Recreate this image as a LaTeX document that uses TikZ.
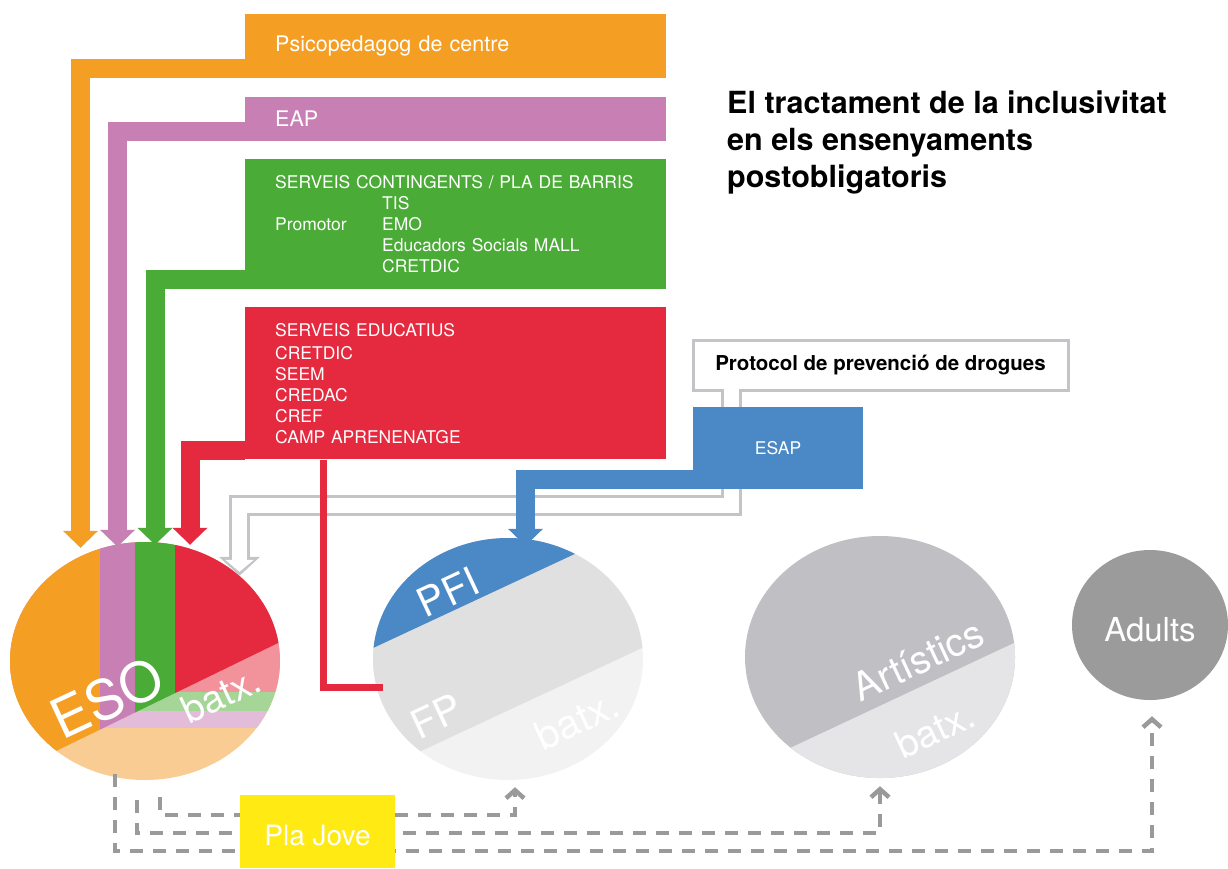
\documentclass[tikz,border=0pt]{standalone}
\usepackage{fontspec}
\setmainfont{TeX Gyre Heros}
\usetikzlibrary{positioning, shapes.geometric, arrows.meta}

\definecolor{colPsico}{HTML}{F49E23}
\definecolor{colEap}{HTML}{C87FB4}
\definecolor{colServeis}{HTML}{4AAB36}
\definecolor{colEducatius}{HTML}{E5293E}
\definecolor{colEsap}{HTML}{4A88C6}
\definecolor{colPipe}{HTML}{C4C4C8}
\definecolor{colJove}{HTML}{FFEA13}
\definecolor{colEsoPink}{HTML}{F2939C}
\definecolor{colEsoGreen}{HTML}{A5D597}
\definecolor{colEsoPurple}{HTML}{E2BCD8}
\definecolor{colEsoOrange}{HTML}{F8CC92}
\definecolor{colFpMid}{HTML}{E0E0E0}
\definecolor{colFpLow}{HTML}{F2F2F2}
\definecolor{colArtTop}{HTML}{C0BFC3}
\definecolor{colArtLow}{HTML}{E5E5E7}
\definecolor{colAdults}{HTML}{9B9B9C}
\definecolor{colDash}{HTML}{9A9A9A}

\begin{document}
\begin{tikzpicture}[x=1pt, y=-1pt,
    box/.style={rectangle, inner xsep=30pt, inner ysep=0pt, text width=361pt, minimum width=421pt, align=left, text=white},
    bigtxt/.style={font=\fontsize{21.5}{25}\selectfont},
    smalltxt/.style={font=\fontsize{17.5}{21}\selectfont},
    pie/.style={ellipse, inner sep=0pt, minimum width=270pt, minimum height=242pt},
    slice/.style={rotate=25, text=white, inner sep=0pt},
    feed/.style={draw=#1, line width=19pt, -{Triangle[width=34pt, length=17pt]}},
    pipe/.style={draw=colPipe, line width=21pt, -{Triangle[width=40pt, length=19pt]}},
    pipein/.style={draw=white, line width=15pt, -{Triangle[width=28pt, length=12pt]}},
    route/.style={draw=colDash, line width=4.5pt, dash pattern=on 13pt off 10pt, -{Straight Barb[length=8pt, width=18pt]}}]

    \useasboundingbox (0,0) rectangle (1228,868);

    % services that reach ESO
    \node (psico) [box, bigtxt, fill=colPsico, minimum height=64pt, anchor=north west] at (245,14) {Psicopedagog de centre};
    \node (eap) [box, bigtxt, fill=colEap, minimum height=44pt, below right=18pt and 0pt of psico.south west] {EAP};
    \node (serveis) [box, smalltxt, fill=colServeis, minimum height=130pt, below right=18pt and 0pt of eap.south west] {SERVEIS CONTINGENTS / PLA DE BARRIS\\
        \hspace*{107pt}TIS\\
        \makebox[107pt][l]{Promotor}EMO\\
        \hspace*{107pt}Educadors Socials MALL\\
        \hspace*{107pt}CRETDIC};
    \node (educatius) [box, smalltxt, fill=colEducatius, minimum height=152pt, below right=18pt and 0pt of serveis.south west] {SERVEIS EDUCATIUS\\[2pt]
        CRETDIC\\ SEEM\\ CREDAC\\ CREF\\ CAMP APRENENATGE};

    % drug prevention protocol
    \node (protocol) [rectangle, draw=colPipe, line width=3pt, fill=white, minimum width=375pt, minimum height=50pt, font=\fontsize{20.5}{24}\selectfont\bfseries] at (880.5,365) {Protocol de prevenció de drogues};

    % ESO
    \node (eso) [pie, fill=colEsoOrange, minimum height=238pt] at (145,661) {};
    \begin{scope}
        \clip (eso.center) ellipse [x radius=135pt, y radius=119pt];
        \fill[colEsoPink] (0,500) rectangle (300,692);
        \fill[colEsoGreen] (0,692) rectangle (300,711);
        \fill[colEsoPurple] (0,711) rectangle (300,728);
        \fill[colPsico] (0,500) -- (100,500) -- (100,729.6) -- (0,778.2) -- cycle;
        \fill[colEap] (100,500) -- (135,500) -- (135,712.5) -- (100,729.6) -- cycle;
        \fill[colServeis] (135,500) -- (175,500) -- (175,693.1) -- (135,712.5) -- cycle;
        \fill[colEducatius] (175,500) -- (300,500) -- (300,632.3) -- (175,693.1) -- cycle;
    \end{scope}
    \node (esoLbl) [slice, font=\fontsize{55}{55}\selectfont] at (107,698) {ESO};
    \node (esoBatx) [slice, font=\fontsize{38}{38}\selectfont] at (221,695) {batx.};

    % FP and PFI
    \node (fp) [pie, fill=colFpLow] at (508,659) {};
    \begin{scope}
        \clip (fp.center) ellipse [x radius=135pt, y radius=121pt];
        \fill[colFpMid] (360,500) -- (660,500) -- (660,639.6) -- (360,779.5) -- cycle;
        \fill[colEsap] (360,500) -- (660,500) -- (660,514.2) -- (360,654.1) -- cycle;
    \end{scope}
    \node (pfiLbl) [slice, font=\fontsize{40}{40}\selectfont] at (448,592) {PFI};
    \node (fpLbl) [slice, font=\fontsize{40}{40}\selectfont] at (436,716) {FP};
    \node (fpBatx) [slice, font=\fontsize{40}{40}\selectfont] at (577,720) {batx.};

    % Artistics
    \node (artistics) [pie, fill=colArtTop] at (880,657) {};
    \begin{scope}
        \clip (artistics.center) ellipse [x radius=135pt, y radius=121pt];
        \fill[colArtLow] (740,771.5) -- (1020,640.2) -- (1020,800) -- (740,800) -- cycle;
    \end{scope}
    \node (artLbl) [slice, font=\fontsize{39}{39}\selectfont] at (918,660) {Artístics};
    \node (artBatx) [slice, font=\fontsize{38}{38}\selectfont] at (935,730) {batx.};

    % Adults
    \node (adults) [ellipse, inner sep=0pt, fill=colAdults, minimum width=156pt, minimum height=150pt, text=white, text height=34pt, font=\fontsize{33}{33}\selectfont] at (1150,625) {Adults};

    % protocol down to ESO
    \draw[pipe] ([xshift=-149.5pt]protocol.south) -- ++(0,114) -| ([xshift=94.5pt,yshift=-34pt]eso.north);
    \draw[pipein] ([xshift=-149.5pt,yshift=4pt]protocol.south) -- ++(0,118) -| ([xshift=94.5pt,yshift=-30pt]eso.north);

    % educational services to FP
    \draw[colEducatius, line width=7pt] ([xshift=-132.5pt]educatius.south) |- ([xshift=10pt,yshift=-28pt]fp.west);

    % arrows into ESO
    \draw[feed=colPsico] ([yshift=-22.5pt]psico.west) -| ([xshift=-64.5pt,yshift=-6pt]eso.north);
    \draw[feed=colEap] ([yshift=-12.5pt]eap.west) -| ([xshift=-27.5pt,yshift=-5pt]eso.north);
    \draw[feed=colServeis] ([yshift=-55pt]serveis.west) -| ([xshift=10pt,yshift=-3pt]eso.north);
    \draw[feed=colEducatius] ([yshift=-67pt]educatius.west) -| ([xshift=45pt,yshift=-3pt]eso.north);

    % ESAP into PFI
    \node (esap) [rectangle, fill=colEsap, minimum width=170pt, minimum height=82pt, text=white, font=\fontsize{17.5}{21}\selectfont] at (778,448) {ESAP};
    \draw[feed=colEsap] ([yshift=-31.5pt]esap.west) -| ([xshift=17.5pt,yshift=-8pt]fp.north);

    % Pla Jove routes
    \draw[route] ([xshift=-30pt,yshift=6pt]eso.south) -- ++(0,77) -| ([xshift=2pt,yshift=-16pt]adults.south);
    \draw[route] ([xshift=-8pt,yshift=-20pt]eso.south) -- ++(0,33) -| ([yshift=-8pt]artistics.south);
    \draw[route] ([xshift=15pt,yshift=-17pt]eso.south) -- ++(0,18) -| ([xshift=7pt,yshift=-7pt]fp.south);
    \node (plajove) [rectangle, fill=colJove, minimum width=155pt, minimum height=73pt, text=white, text height=29pt, font=\fontsize{28}{28}\selectfont] at (317.5,831.5) {Pla Jove};

    % title
    \node (title) [anchor=north west, inner sep=0pt, align=left, font=\fontsize{30.5}{37}\selectfont\bfseries] at (727,91) {El tractament de la inclusivitat\\en els ensenyaments\\postobligatoris};

\end{tikzpicture}
\end{document}
